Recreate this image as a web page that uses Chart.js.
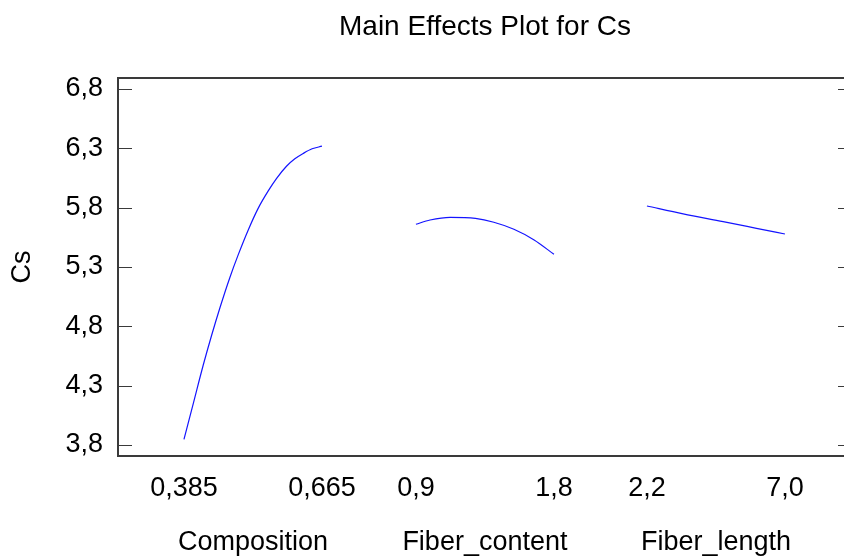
<!DOCTYPE html>
<html>
<head>
<meta charset="utf-8">
<script src="https://cdn.jsdelivr.net/npm/chart.js@4.4.1/dist/chart.umd.min.js"></script>
<style>
  html, body { margin: 0; padding: 0; overflow: hidden; background: #ffffff; }
  #wrap { width: 870px; height: 557px; }
</style>
</head>
<body>
<div id="wrap"><canvas id="c" width="870" height="557"></canvas></div>
<script>
// ---- data ----
const chartTitle = 'Main Effects Plot for Cs';
const yTitle = 'Cs';
const factors = ['Composition', 'Fiber_content', 'Fiber_length'];
const lows = [0.385, 0.9, 2.2];
const highs = [0.665, 1.8, 7.0];
const xTickLabels = ['0,385', '0,665', '0,9', '1,8', '2,2', '7,0'];
const yTickValues = [3.8, 4.3, 4.8, 5.3, 5.8, 6.3, 6.8];
const yTickLabels = ['3,8', '4,3', '4,8', '5,3', '5,8', '6,3', '6,8'];

const compX = [0.385, 0.404, 0.424, 0.441, 0.458, 0.478, 0.495, 0.515, 0.535, 0.556, 0.573, 0.593, 0.610, 0.627, 0.645, 0.665];
const compY = [3.848, 4.151, 4.472, 4.723, 4.957, 5.210, 5.402, 5.608, 5.790, 5.941, 6.047, 6.149, 6.212, 6.257, 6.296, 6.318];
const fcX = [0.9, 0.992, 1.123, 1.288, 1.408, 1.539, 1.671, 1.8];
const fcY = [5.660, 5.696, 5.719, 5.710, 5.677, 5.618, 5.528, 5.407];
const flX = [2.2, 3.46, 4.85, 6.01, 7.0];
const flY = [5.814, 5.747, 5.682, 5.626, 5.578];

// ---- layout of the composite x axis (each factor panel spans 1 unit) ----
const groupStart = [0, 1.681, 3.355];
const xMin = -0.478, xMax = 4.841;
const yMin = 3.7073, yMax = 6.8927;

function pos(g, v) { return groupStart[g] + (v - lows[g]) / (highs[g] - lows[g]); }
function series(g, xs, ys) { return xs.map((v, i) => ({ x: pos(g, v), y: ys[i] })); }

const xTickPos = [];
factors.forEach((f, g) => { xTickPos.push(pos(g, lows[g]), pos(g, highs[g])); });
const xNamePos = factors.map((f, g) => groupStart[g] + 0.5);

const FONT = { family: "'Liberation Sans', Arial, sans-serif", size: 27 };
const TITLE_FONT = { family: "'Liberation Sans', Arial, sans-serif", size: 28 };
const AXIS_COLOR = '#3a3a3a';
const LINE_COLOR = 'rgb(20,20,255)';

const innerTicks = {
  id: 'innerTicks',
  afterDraw(chart) {
    const { ctx, chartArea } = chart;
    const ys = chart.scales.y;
    ctx.save();
    ctx.strokeStyle = AXIS_COLOR;
    ctx.lineWidth = 1;
    ys.ticks.forEach(t => {
      const py = Math.round(ys.getPixelForValue(t.value)) + 0.5;
      ctx.beginPath();
      ctx.moveTo(chartArea.left, py); ctx.lineTo(chartArea.left + 14, py);
      ctx.moveTo(chartArea.right - 14, py); ctx.lineTo(chartArea.right, py);
      ctx.stroke();
    });
    ctx.restore();
  }
};

const ds = (data) => ({
  data, borderColor: LINE_COLOR, borderWidth: 1.2, pointRadius: 0,
  fill: false, cubicInterpolationMode: 'monotone', showLine: true
});

new Chart(document.getElementById('c'), {
  type: 'scatter',
  data: {
    datasets: [
      ds(series(0, compX, compY)),
      ds(series(1, fcX, fcY)),
      ds(series(2, flX, flY))
    ]
  },
  options: {
    responsive: false,
    animation: false,
    devicePixelRatio: 1,
    layout: { padding: { left: 0, right: 18, top: 0, bottom: 0 } },
    plugins: { legend: { display: false }, tooltip: { enabled: false }, title: { display: false } },
    scales: {
      x: {
        type: 'linear', position: 'bottom', weight: 0, min: xMin, max: xMax,
        afterBuildTicks: s => { s.ticks = xTickPos.map(v => ({ value: v })); },
        afterFit: s => { s.height = 50; },
        ticks: { autoSkip: false, maxRotation: 0, color: '#000', font: FONT, padding: 16.4,
                 callback: (v, i) => xTickLabels[i] },
        grid: { display: false, drawTicks: false },
        border: { display: true, color: AXIS_COLOR, width: 2 }
      },
      xNames: {
        type: 'linear', position: 'bottom', weight: 1, min: xMin, max: xMax,
        afterBuildTicks: s => { s.ticks = xNamePos.map(v => ({ value: v })); },
        afterFit: s => { s.height = 51; },
        ticks: { autoSkip: false, maxRotation: 0, color: '#000', font: FONT, padding: 20.4,
                 callback: (v, i) => factors[i] },
        grid: { display: false, drawTicks: false },
        border: { display: false }
      },
      xTop: {
        type: 'linear', position: 'top', min: xMin, max: xMax,
        afterFit: s => { s.height = 78; },
        ticks: { display: false },
        grid: { display: false, drawTicks: false },
        border: { display: true, color: AXIS_COLOR, width: 2 },
        title: { display: true, text: chartTitle, color: '#000', font: TITLE_FONT, padding: { top: 10.8, bottom: 0 } }
      },
      y: {
        type: 'linear', position: 'left', min: yMin, max: yMax,
        afterBuildTicks: s => { s.ticks = yTickValues.map(v => ({ value: v })); },
        afterFit: s => { s.width = 118; },
        ticks: { autoSkip: false, color: '#000', font: FONT, padding: 15,
                 callback: (v, i) => yTickLabels[i] },
        grid: { display: false, drawTicks: false },
        border: { display: true, color: AXIS_COLOR, width: 2 },
        title: { display: true, text: yTitle, color: '#000', font: FONT, padding: { top: 6, bottom: 0 } }
      }
    }
  },
  plugins: [innerTicks]
});
</script>
</body>
</html>
